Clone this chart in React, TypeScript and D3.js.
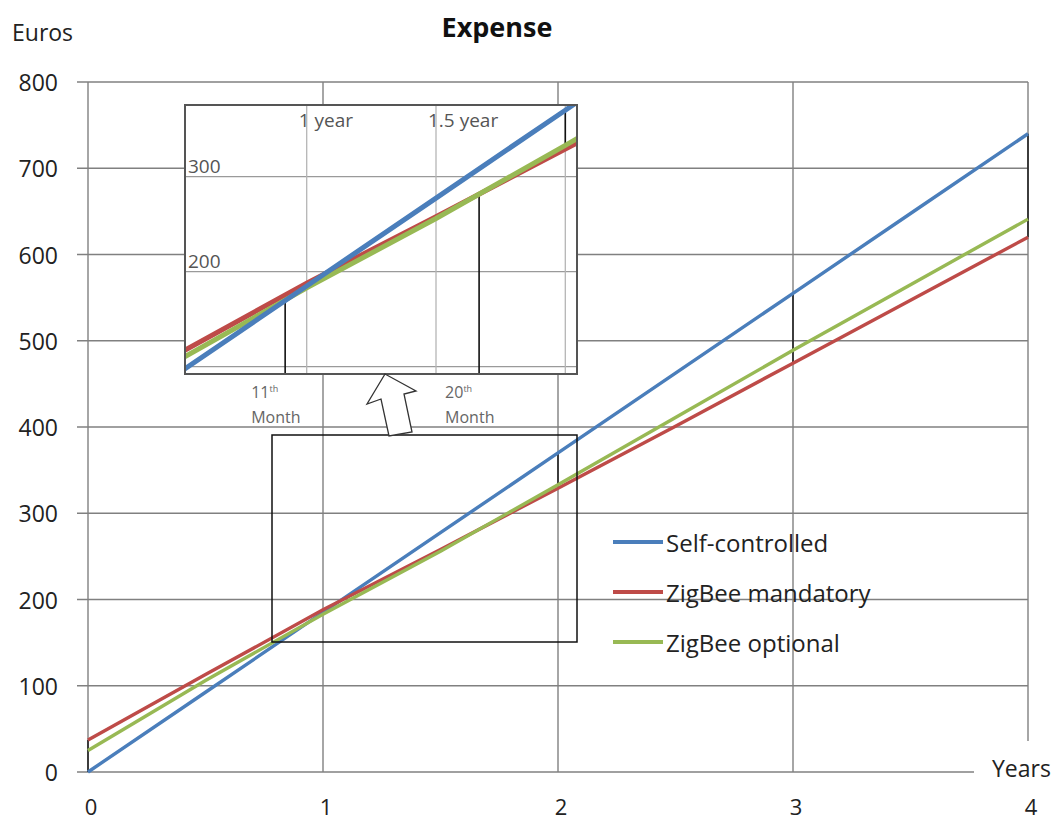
import React from "react";
import * as d3 from "d3";

const years = [0, 0.5, 1, 1.5, 2, 2.5, 3, 3.5, 4];
const selfControlled = [0, 92.5, 185, 277.5, 370, 462.5, 555, 647.5, 740];
const zigbeeMandatory = [37, 113, 188, 258, 329, 401, 474, 547, 620];
const zigbeeOptional = [25, 106, 183, 256, 333, 411, 489, 565, 641];

const seriesNames = ["Self-controlled", "ZigBee mandatory", "ZigBee optional"];
const seriesColors = ["#4a7ebb", "#be4b48", "#98b954"];
const seriesValues = [selfControlled, zigbeeMandatory, zigbeeOptional];

const yTicks = [0, 100, 200, 300, 400, 500, 600, 700, 800];
const xTicks = [0, 1, 2, 3, 4];
const dropYears = [0, 1, 2, 3, 4];

const insetXGrid = [1, 1.5, 2];
const insetXLabels = ["1 year", "1.5 year"];
const insetYGrid = [100, 200, 300];
const insetYLabels = [300, 200];
const monthMarkers = [11, 20];

const FONT = "'Open Sans', sans-serif";

function valueAt(vals: number[], t: number) {
  const s = d3.scaleLinear().domain(years).range(vals);
  return s(t);
}

export default function App() {
  const x = d3.scaleLinear().domain([0, 4]).range([88, 1028]);
  const y = d3.scaleLinear().domain([0, 800]).range([772, 82]);

  // inset (magnified view)
  const xi = d3.scaleLinear().domain([1, 1.5]).range([306.7, 436]);
  const yi = d3.scaleLinear().domain([200, 300]).range([271.7, 176.7]);
  const inset = { x0: 185, y0: 105, x1: 577, y1: 374 };

  const mainLine = d3
    .line<number>()
    .x((_, i) => x(years[i]))
    .y((d) => y(d));
  const insetLine = d3
    .line<number>()
    .x((_, i) => xi(years[i]))
    .y((d) => yi(d));

  const grid = "#808080";

  const drops = dropYears.map((t) => {
    const vs = seriesValues.map((v) => valueAt(v, t));
    return { t, lo: Math.min(...vs), hi: Math.max(...vs) };
  });

  const arrow = [
    [385, 374],
    [367, 404],
    [381, 399],
    [389, 436],
    [412, 432],
    [404, 394],
    [416, 391],
  ];

  return (
    <svg
      width={1059}
      height={823}
      style={{ position: "absolute", left: 0, top: 0, background: "#fff" }}
      fontFamily={FONT}
    >
      <rect x={0} y={0} width={1059} height={823} fill="#fff" />
      {/* horizontal grid */}
      {yTicks.map((v) => (
        <line key={"h" + v} x1={77} x2={x(4)} y1={y(v)} y2={y(v)} stroke={grid} strokeWidth={1.4} />
      ))}
      {/* vertical grid */}
      {xTicks.map((t) => (
        <line key={"v" + t} x1={x(t)} x2={x(t)} y1={y(800)} y2={y(0)} stroke={grid} strokeWidth={1.4} />
      ))}
      {/* drop lines */}
      {drops.map((d) => (
        <line key={"d" + d.t} x1={x(d.t)} x2={x(d.t)} y1={y(d.hi)} y2={y(d.lo)} stroke="#111" strokeWidth={1.4} />
      ))}
      {/* series */}
      {seriesValues.map((vals, i) => (
        <path key={"s" + i} d={mainLine(vals) || ""} fill="none" stroke={seriesColors[i]} strokeWidth={3.4} />
      ))}
      {/* years label box */}
      <rect x={974} y={741} width={85} height={58} fill="#fff" />
      <text x={992} y={777} fontSize={23} fill="#222">Years</text>
      {/* y labels */}
      {yTicks.map((v) => (
        <text key={"yl" + v} x={58} y={y(v)} fontSize={23} fill="#222" textAnchor="end" dominantBaseline="central">
          {v}
        </text>
      ))}
      {/* x labels */}
      {xTicks.map((t) => (
        <text key={"xl" + t} x={x(t) + 3} y={815} fontSize={22} fill="#222" textAnchor="middle">
          {t}
        </text>
      ))}
      <text x={12} y={41} fontSize={23} fill="#222">Euros</text>
      <text x={497} y={37} fontSize={27} fontWeight="bold" fill="#111" textAnchor="middle">Expense</text>

      {/* legend */}
      {seriesNames.map((n, i) => (
        <g key={"lg" + i} transform={`translate(613, ${542 + i * 50})`}>
          <line x1={0} x2={50} y1={0} y2={0} stroke={seriesColors[i]} strokeWidth={4} />
          <text x={53} y={0} fontSize={24} fill="#222" dominantBaseline="central">{n}</text>
        </g>
      ))}

      {/* zoom rectangle */}
      <rect x={272} y={435} width={305} height={207} fill="none" stroke="#111" strokeWidth={1.5} />

      {/* inset */}
      <defs>
        <clipPath id="insetClip">
          <rect x={inset.x0} y={inset.y0} width={inset.x1 - inset.x0} height={inset.y1 - inset.y0} />
        </clipPath>
      </defs>
      <rect x={inset.x0} y={inset.y0} width={inset.x1 - inset.x0} height={inset.y1 - inset.y0} fill="#fff" />
      <g clipPath="url(#insetClip)">
        {insetYGrid.map((v) => (
          <line key={"ih" + v} x1={inset.x0} x2={inset.x1} y1={yi(v)} y2={yi(v)} stroke="#9a9a9a" strokeWidth={1.3} />
        ))}
        {insetXGrid.map((t) => (
          <line key={"iv" + t} x1={xi(t)} x2={xi(t)} y1={inset.y0} y2={inset.y1} stroke="#b5b5b5" strokeWidth={1.3} />
        ))}
        {drops.map((d) => (
          <line key={"id" + d.t} x1={xi(d.t)} x2={xi(d.t)} y1={yi(d.hi)} y2={yi(d.lo)} stroke="#111" strokeWidth={1.6} />
        ))}
        {monthMarkers.map((m, k) => {
          const t = m / 12;
          const top = k === 0 ? valueAt(selfControlled, t) : valueAt(zigbeeOptional, t);
          return <line key={"mm" + m} x1={xi(t)} x2={xi(t)} y1={yi(top)} y2={inset.y1} stroke="#111" strokeWidth={1.6} />;
        })}
        {[1, 2, 0].map((i) => (
          <path key={"is" + i} d={insetLine(seriesValues[i]) || ""} fill="none" stroke={seriesColors[i]} strokeWidth={5} />
        ))}
        {insetXLabels.map((l, k) => (
          <text key={"ixl" + k} x={xi(insetXGrid[k]) - 8} y={127} fontSize={19} fill="#555">{l}</text>
        ))}
        {insetYLabels.map((v) => (
          <text key={"iyl" + v} x={188} y={yi(v) - 4} fontSize={19} fill="#555">{v}</text>
        ))}
      </g>
      <rect x={inset.x0} y={inset.y0} width={inset.x1 - inset.x0} height={inset.y1 - inset.y0} fill="none" stroke="#555" strokeWidth={2} />
      {monthMarkers.map((m) => {
        const t = m / 12;
        const lx = xi(t) - 34;
        return (
          <g key={"ml" + m}>
            <text x={lx} y={398} fontSize={16} fill="#666">
              {m}
              <tspan fontSize={9} dy={-6}>th</tspan>
            </text>
            <text x={lx} y={423} fontSize={16} fill="#666">Month</text>
          </g>
        );
      })}
      <polygon points={arrow.map((p) => p.join(",")).join(" ")} fill="#fff" stroke="#333" strokeWidth={1.3} />
    </svg>
  );
}
